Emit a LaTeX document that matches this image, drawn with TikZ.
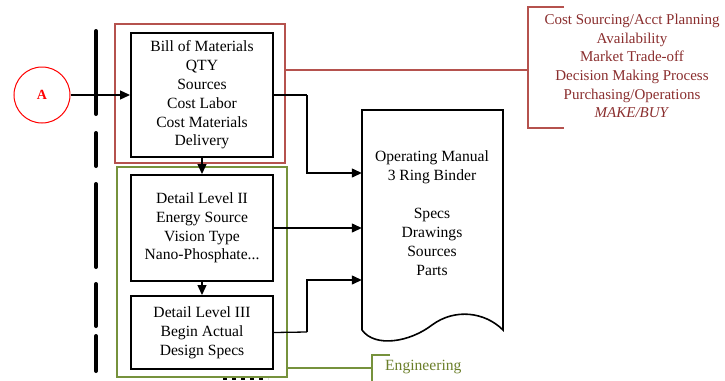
\documentclass[tikz,border=0pt]{standalone}
\usepackage{fontspec}
\setmainfont{Liberation Serif}
\usetikzlibrary{arrows.meta}
\definecolor{bred}{HTML}{B5524E}
\definecolor{bgreen}{HTML}{76923C}
\definecolor{tred}{HTML}{8A2E2E}
\definecolor{tgreen}{HTML}{6B7F2A}
\begin{document}
\begin{tikzpicture}[x=1pt,y=-1pt,
  txt/.style={font=\fontsize{15.6}{18.8}\selectfont, align=center, inner sep=0pt},
  blackbox/.style={draw=black, line width=2pt, minimum width=142pt, inner sep=0pt},
  arr/.style={line width=1.3pt, -{Triangle[length=10pt,width=9pt]}},
  conn/.style={line width=1.3pt},
  bar/.style={line width=4pt, line cap=round}]
\useasboundingbox (0,0) rectangle (725,380);
% circle A
\node[draw=red, line width=1pt, circle, minimum size=56pt, inner sep=0pt, text=red,
      font=\fontsize{14}{16}\selectfont\bfseries] (A) at (42,95) {A};
% dashed thick bar
\draw[bar] (96,31) -- (96,114);
\draw[bar] (96,133) -- (96,166);
\draw[bar] (96,184) -- (96,267);
\draw[bar] (96,284) -- (96,326);
\draw[bar] (96,336) -- (96,371);
% outer coloured frames
\node[draw=bred, line width=1.3pt, minimum width=170pt, minimum height=139pt, inner sep=0pt] (rframe) at (200,93.5) {};
\node[draw=bgreen, line width=1.3pt, minimum width=170pt, minimum height=210pt, inner sep=0pt] (gframe) at (202,272) {};
% inner boxes
\node[blackbox, minimum height=124pt] (b1) at (202,95) {};
\node[txt] at (b1.center) {Bill of Materials\\QTY\\Sources\\Cost Labor\\Cost Materials\\Delivery};
\node[blackbox, minimum height=106pt] (b2) at (202,228) {};
\node[txt] at (b2.center) {Detail Level II\\Energy Source\\Vision Type\\Nano-Phosphate...};
\node[blackbox, minimum height=73pt] (b3) at (202,332.5) {};
\node[txt] at (b3.center) {Detail Level III\\Begin Actual\\Design Specs};
% arrows
\draw[arr] (A.east) -- (b1.west);
\draw[arr] (b1.south) -- (b2.north);
\draw[arr] (b2.south) -- (b3.north);
% document shape
\node[minimum width=141pt, minimum height=220pt, inner sep=0pt] (doc) at (432.5,220) {};
\draw[line width=1.6pt] (362,330) -- (362,110) -- (503,110) -- (503,330)
  .. controls (485,312) and (455,308) .. (432,325)
  .. controls (410,342) and (375,348) .. (362,330);
\node[txt] at (432,167) {Operating Manual\\3 Ring Binder};
\node[txt] at (432,242) {Specs\\Drawings\\Sources\\Parts};
% connectors into document
\coordinate (y1) at (0,173);
\coordinate (y3) at (0,280);
\draw[conn] (b1.east) -- (307,95) coordinate (k1);
\draw[arr] (k1) |- (doc.west |- y1);
\draw[arr] (b2.east) -- (doc.west |- b2.east);
\draw[conn] (b3.east) -- (307,332) coordinate (k3);
\draw[arr] (k3) |- (doc.west |- y3);
% red bracket
\coordinate (rb) at (528,70);
\draw[bred, line width=1.3pt] (rframe.east |- rb) -- (rb);
\draw[bred, line width=1.8pt] (564,7) -- (528,7) -- (528,128) -- (564,128);
\node[txt, text=tred, font=\fontsize{15}{18.6}\selectfont] (costs) at (632,66) {Cost Sourcing/Acct Planning\\Availability\\Market Trade-off\\Decision Making Process\\Purchasing/Operations\\\textit{MAKE/BUY}};
% green bracket
\coordinate (gb) at (372,368);
\draw[bgreen, line width=1.3pt] (gframe.east |- gb) -- (gb);
\draw[bgreen, line width=1.8pt] (390,355) -- (372,355) -- (372,385);
\node[txt, text=tgreen, anchor=west] (eng) at (385,367) {Engineering};
% small dashes below
\draw[line width=1.5pt, dash pattern=on 4pt off 5pt] (223,379) -- (268,379);
\end{tikzpicture}
\end{document}
